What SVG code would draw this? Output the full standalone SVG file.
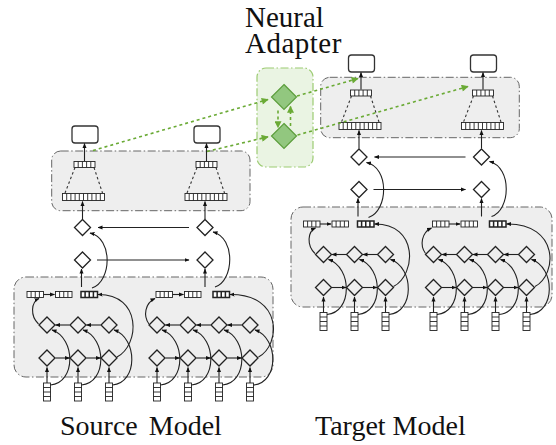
<svg xmlns="http://www.w3.org/2000/svg" xmlns:xlink="http://www.w3.org/1999/xlink" width="556" height="445" viewBox="0 0 556 445">
<style>
.box{fill:#eeeeee;stroke:#666;stroke-width:1;stroke-dasharray:8 2.5 1.5 2.5}
.gbox{fill:#eaf4e3;stroke:#9ccb72;stroke-width:1.2;stroke-dasharray:8 2.5 1.5 2.5}
.dia{fill:none;stroke:#222;stroke-width:1.3;stroke-linejoin:miter}
.gdia{fill:#92c77f;stroke:#5c9e3c;stroke-width:1.2}
.cell,.vec{stroke:#222;stroke-width:0.9}
.thick{stroke-width:1.5}
.out{fill:#fff;stroke:#333;stroke-width:1.3}
.ln{fill:none;stroke:#222;stroke-width:1.1}
.arr{marker-end:url(#ah)}
.dash{fill:none;stroke:#333;stroke-width:1.1;stroke-dasharray:2.5 2.5}
.gl{fill:none;stroke:#6aaa35;stroke-width:1.6;stroke-dasharray:3 3;marker-end:url(#gh)}
.txt{font-family:"Liberation Serif","Times New Roman",serif;fill:#111}
</style>
<defs>
<marker id="ah" viewBox="0 0 10 10" refX="9" refY="5" markerWidth="5" markerHeight="5" orient="auto" markerUnits="userSpaceOnUse"><path d="M0,1 L10,5 L0,9 Z" fill="#111"/></marker>
<marker id="gh" viewBox="0 0 10 10" refX="9" refY="5" markerWidth="8" markerHeight="7" orient="auto" markerUnits="userSpaceOnUse"><path d="M0,0 L10,5 L0,10 Z" fill="#6aaa35"/></marker>
<path id="dia" d="M0,-8 L8,0 L0,8 L-8,0 Z"/>
<g id="vec"><rect x="-3.5" y="0" width="7" height="18" fill="#fff"/><path d="M-3.5,4.5h7M-3.5,9h7M-3.5,13.5h7" fill="none"/></g>
<g id="c4"><rect width="16.5" height="6" fill="#fff"/><path d="M4.1,0v6M8.25,0v6M12.4,0v6" fill="none"/></g>
<g id="c5"><rect width="21" height="6" fill="#fff"/><path d="M4.2,0v6M8.4,0v6M12.6,0v6M16.8,0v6" fill="none"/></g>
<g id="c10"><rect width="42" height="7" fill="#fff"/><path d="M4.2,0v7M8.4,0v7M12.6,0v7M16.8,0v7M21,0v7M25.2,0v7M29.4,0v7M33.6,0v7M37.8,0v7" fill="none"/></g>
</defs>
<rect width="556" height="445" fill="#fff"/>

<!-- SOURCE MODEL -->
<g id="source">
<g id="s-enc-box"><rect class="box" x="14" y="277" width="259" height="100" rx="12"/></g>
<g id="s-dec-box"><rect class="box" x="51.7" y="151" width="198.3" height="59.7" rx="9"/></g>
<g id="s-nodes">
<g id="s-in1" class="vec"><use href="#vec" x="47" y="383"/></g>
<g id="s-in2" class="vec"><use href="#vec" x="78" y="383"/></g>
<g id="s-in3" class="vec"><use href="#vec" x="109" y="383"/></g>
<g id="s-in4" class="vec"><use href="#vec" x="157" y="383"/></g>
<g id="s-in5" class="vec"><use href="#vec" x="188" y="383"/></g>
<g id="s-in6" class="vec"><use href="#vec" x="219" y="383"/></g>
<g id="s-in7" class="vec"><use href="#vec" x="250" y="383"/></g>
<g id="s-f1"><use class="dia" href="#dia" x="47" y="358"/></g>
<g id="s-f2"><use class="dia" href="#dia" x="78" y="358"/></g>
<g id="s-f3"><use class="dia" href="#dia" x="109" y="358"/></g>
<g id="s-f4"><use class="dia" href="#dia" x="157" y="358"/></g>
<g id="s-f5"><use class="dia" href="#dia" x="188" y="358"/></g>
<g id="s-f6"><use class="dia" href="#dia" x="219" y="358"/></g>
<g id="s-f7"><use class="dia" href="#dia" x="250" y="358"/></g>
<g id="s-b1"><use class="dia" href="#dia" x="47" y="325"/></g>
<g id="s-b2"><use class="dia" href="#dia" x="78" y="325"/></g>
<g id="s-b3"><use class="dia" href="#dia" x="109" y="325"/></g>
<g id="s-b4"><use class="dia" href="#dia" x="157" y="325"/></g>
<g id="s-b5"><use class="dia" href="#dia" x="188" y="325"/></g>
<g id="s-b6"><use class="dia" href="#dia" x="219" y="325"/></g>
<g id="s-b7"><use class="dia" href="#dia" x="250" y="325"/></g>
<g id="s-c1" class="cell"><use href="#c4" x="27" y="291.5"/></g>
<g id="s-c2" class="cell"><use href="#c4" x="55.5" y="291.5"/></g>
<g id="s-c3" class="cell thick"><use href="#c4" x="81" y="291.5"/></g>
<g id="s-c4" class="cell"><use href="#c4" x="156" y="291.5"/></g>
<g id="s-c5" class="cell"><use href="#c4" x="184.5" y="291.5"/></g>
<g id="s-c6" class="cell thick"><use href="#c4" x="213" y="291.5"/></g>
<g id="s-d1"><use class="dia" href="#dia" x="82.5" y="260"/></g>
<g id="s-d2"><use class="dia" href="#dia" x="82.5" y="227.5"/></g>
<g id="s-d3"><use class="dia" href="#dia" x="205" y="260"/></g>
<g id="s-d4"><use class="dia" href="#dia" x="205" y="227.5"/></g>
<g id="s-wide1" class="cell"><use href="#c10" x="62.5" y="193.5"/></g>
<g id="s-wide2" class="cell"><use href="#c10" x="185" y="193.5"/></g>
<g id="s-top1" class="cell"><use href="#c5" x="74" y="161.5"/></g>
<g id="s-top2" class="cell"><use href="#c5" x="196" y="161.5"/></g>
<g id="s-out1"><rect class="out" x="72" y="126" width="26" height="17" rx="3"/></g>
<g id="s-out2"><rect class="out" x="194" y="126" width="26" height="17" rx="3"/></g>
</g>
<g id="s-connectors">
<path class="ln arr" d="M47,383V367.5"/><path class="ln arr" d="M78,383V367.5"/><path class="ln arr" d="M109,383V367.5"/>
<path class="ln arr" d="M157,383V367.5"/><path class="ln arr" d="M188,383V367.5"/><path class="ln arr" d="M219,383V367.5"/><path class="ln arr" d="M250,383V367.5"/>
<path class="ln arr" d="M55.5,358H69.5"/><path class="ln arr" d="M86.5,358H100.5"/>
<path class="ln arr" d="M165.5,358H179.5"/><path class="ln arr" d="M196.5,358H210.5"/><path class="ln arr" d="M227.5,358H241.5"/>
<path class="ln arr" d="M69.5,325H55.5"/><path class="ln arr" d="M100.5,325H86.5"/>
<path class="ln arr" d="M179.5,325H165.5"/><path class="ln arr" d="M210.5,325H196.5"/><path class="ln arr" d="M241.5,325H227.5"/>
<path class="ln arr" d="M50.5,385C76,383 76,338 52,330"/>
<path class="ln arr" d="M81.5,385C107,383 107,338 83,330"/>
<path class="ln arr" d="M112.5,385C138,383 138,338 114,330"/>
<path class="ln arr" d="M160.5,385C186,383 186,338 162,330"/>
<path class="ln arr" d="M191.5,385C217,383 217,338 193,330"/>
<path class="ln arr" d="M222.5,385C248,383 248,338 224,330"/>
<path class="ln arr" d="M253.5,385C279,383 279,338 255,330"/>
<path class="ln arr" d="M38.5,324C30,316 31,302 39,298.5"/>
<path class="ln arr" d="M149,324C143,316 145,303 155,298.5"/>
<path class="ln arr" d="M117,357C140,345 142,294 98,294.5"/>
<path class="ln arr" d="M258.5,357C281,345 283,294 230,294.5"/>
<path class="ln arr" d="M43.5,294.5H54.5"/><path class="ln arr" d="M172.5,294.5H183.5"/>
<path class="ln arr" d="M81.5,287V269"/><path class="ln arr" d="M205,287V269"/>
<path class="ln arr" d="M92,288C112,281 113,238 90,233"/>
<path class="ln arr" d="M215,287C234,281 236,238 213,232"/>
<path class="ln arr" d="M189,227.5H98"/><path class="ln arr" d="M97,260H189"/>
<path class="ln arr" d="M82.5,219V201.5"/><path class="ln arr" d="M205,219V201.5"/>
<path class="dash" d="M75,167.5L65,193M94,167.5L102.5,193M197,167.5L187,193M216,167.5L224.5,193"/>
<path class="ln arr" d="M84.5,161V143.5"/><path class="ln arr" d="M206.5,161V143.5"/>
</g>
</g>

<!-- TARGET MODEL -->
<g id="target" transform="translate(276.5,-70.5)">
<g id="t-enc-box"><rect class="box" x="14.5" y="277.5" width="261" height="100" rx="12"/></g>
<g id="t-dec-box"><rect class="box" x="44.2" y="147.8" width="198.6" height="60.4" rx="9"/></g>
<g id="t-nodes">
<g id="t-in1" class="vec"><use href="#vec" x="47" y="383"/></g>
<g id="t-in2" class="vec"><use href="#vec" x="78" y="383"/></g>
<g id="t-in3" class="vec"><use href="#vec" x="109" y="383"/></g>
<g id="t-in4" class="vec"><use href="#vec" x="157" y="383"/></g>
<g id="t-in5" class="vec"><use href="#vec" x="188" y="383"/></g>
<g id="t-in6" class="vec"><use href="#vec" x="219" y="383"/></g>
<g id="t-in7" class="vec"><use href="#vec" x="250" y="383"/></g>
<g id="t-f1"><use class="dia" href="#dia" x="47" y="358"/></g>
<g id="t-f2"><use class="dia" href="#dia" x="78" y="358"/></g>
<g id="t-f3"><use class="dia" href="#dia" x="109" y="358"/></g>
<g id="t-f4"><use class="dia" href="#dia" x="157" y="358"/></g>
<g id="t-f5"><use class="dia" href="#dia" x="188" y="358"/></g>
<g id="t-f6"><use class="dia" href="#dia" x="219" y="358"/></g>
<g id="t-f7"><use class="dia" href="#dia" x="250" y="358"/></g>
<g id="t-b1"><use class="dia" href="#dia" x="47" y="325"/></g>
<g id="t-b2"><use class="dia" href="#dia" x="78" y="325"/></g>
<g id="t-b3"><use class="dia" href="#dia" x="109" y="325"/></g>
<g id="t-b4"><use class="dia" href="#dia" x="157" y="325"/></g>
<g id="t-b5"><use class="dia" href="#dia" x="188" y="325"/></g>
<g id="t-b6"><use class="dia" href="#dia" x="219" y="325"/></g>
<g id="t-b7"><use class="dia" href="#dia" x="250" y="325"/></g>
<g id="t-c1" class="cell"><use href="#c4" x="27" y="291.5"/></g>
<g id="t-c2" class="cell"><use href="#c4" x="55.5" y="291.5"/></g>
<g id="t-c3" class="cell thick"><use href="#c4" x="81" y="291.5"/></g>
<g id="t-c4" class="cell"><use href="#c4" x="156" y="291.5"/></g>
<g id="t-c5" class="cell"><use href="#c4" x="184.5" y="291.5"/></g>
<g id="t-c6" class="cell thick"><use href="#c4" x="213" y="291.5"/></g>
<g id="t-d1"><use class="dia" href="#dia" x="82.5" y="260"/></g>
<g id="t-d2"><use class="dia" href="#dia" x="82.5" y="227.5"/></g>
<g id="t-d3"><use class="dia" href="#dia" x="205" y="260"/></g>
<g id="t-d4"><use class="dia" href="#dia" x="205" y="227.5"/></g>
<g id="t-wide1" class="cell"><use href="#c10" x="62.5" y="193"/></g>
<g id="t-wide2" class="cell"><use href="#c10" x="185" y="193"/></g>
<g id="t-top1" class="cell"><use href="#c5" x="74" y="160.5"/></g>
<g id="t-top2" class="cell"><use href="#c5" x="196" y="160.5"/></g>
<g id="t-out1"><rect class="out" x="72" y="125.5" width="26" height="17" rx="3"/></g>
<g id="t-out2"><rect class="out" x="194" y="125.5" width="26" height="17" rx="3"/></g>
</g>
<g id="t-connectors">
<path class="ln arr" d="M47,383V367.5"/><path class="ln arr" d="M78,383V367.5"/><path class="ln arr" d="M109,383V367.5"/>
<path class="ln arr" d="M157,383V367.5"/><path class="ln arr" d="M188,383V367.5"/><path class="ln arr" d="M219,383V367.5"/><path class="ln arr" d="M250,383V367.5"/>
<path class="ln arr" d="M55.5,358H69.5"/><path class="ln arr" d="M86.5,358H100.5"/>
<path class="ln arr" d="M165.5,358H179.5"/><path class="ln arr" d="M196.5,358H210.5"/><path class="ln arr" d="M227.5,358H241.5"/>
<path class="ln arr" d="M69.5,325H55.5"/><path class="ln arr" d="M100.5,325H86.5"/>
<path class="ln arr" d="M179.5,325H165.5"/><path class="ln arr" d="M210.5,325H196.5"/><path class="ln arr" d="M241.5,325H227.5"/>
<path class="ln arr" d="M50.5,385C76,383 76,338 52,330"/>
<path class="ln arr" d="M81.5,385C107,383 107,338 83,330"/>
<path class="ln arr" d="M112.5,385C138,383 138,338 114,330"/>
<path class="ln arr" d="M160.5,385C186,383 186,338 162,330"/>
<path class="ln arr" d="M191.5,385C217,383 217,338 193,330"/>
<path class="ln arr" d="M222.5,385C248,383 248,338 224,330"/>
<path class="ln arr" d="M253.5,385C279,383 279,338 255,330"/>
<path class="ln arr" d="M38.5,324C30,316 31,302 39,298.5"/>
<path class="ln arr" d="M149,324C143,316 145,303 155,298.5"/>
<path class="ln arr" d="M117,357C140,345 142,294 98,294.5"/>
<path class="ln arr" d="M258.5,357C281,345 283,294 230,294.5"/>
<path class="ln arr" d="M43.5,294.5H54.5"/><path class="ln arr" d="M172.5,294.5H183.5"/>
<path class="ln arr" d="M81.5,287V269"/><path class="ln arr" d="M205,287V269"/>
<path class="ln arr" d="M92,288C112,281 113,238 90,233"/>
<path class="ln arr" d="M215,287C234,281 236,238 213,232"/>
<path class="ln arr" d="M189,227.5H98"/><path class="ln arr" d="M97,260H189"/>
<path class="ln arr" d="M82.5,219V201"/><path class="ln arr" d="M205,219V201"/>
<path class="dash" d="M75,166.5L65,192.5M94,166.5L102.5,192.5M197,166.5L187,192.5M216,166.5L224.5,192.5"/>
<path class="ln arr" d="M84.5,160V143"/><path class="ln arr" d="M206.5,160V143"/>
</g>
</g>

<!-- NEURAL ADAPTER -->
<g id="adapter">
<g id="adapter-box"><rect class="gbox" x="257" y="68" width="56" height="99" rx="9"/></g>
<g id="adapter-up"><path class="gdia" d="M284,84.5 L296.5,97 L284,109.5 L271.5,97 Z"/></g>
<g id="adapter-down"><path class="gdia" d="M284,123.5 L296.5,136 L284,148.5 L271.5,136 Z"/></g>
</g>
<g id="adapter-connectors">
<path class="gl" d="M278,110.5V127.5"/>
<path class="gl" d="M290.5,126V106.5"/>
<path class="gl" d="M93,150.5L268,99.5"/>
<path class="gl" d="M207,151.5L268,136.8"/>
<path class="gl" d="M297,96L358,78.5"/>
<path class="gl" d="M297.5,135L468,86.5"/>
</g>

<g id="labels">
<text class="txt" font-size="29"><tspan x="245" y="27">Neural</tspan><tspan x="245" y="53" letter-spacing="0.5">Adapter</tspan></text>
<text class="txt" x="60" y="435" font-size="28" word-spacing="4">Source Model</text>
<text class="txt" x="315" y="435" font-size="28">Target Model</text>
</g>
</svg>
